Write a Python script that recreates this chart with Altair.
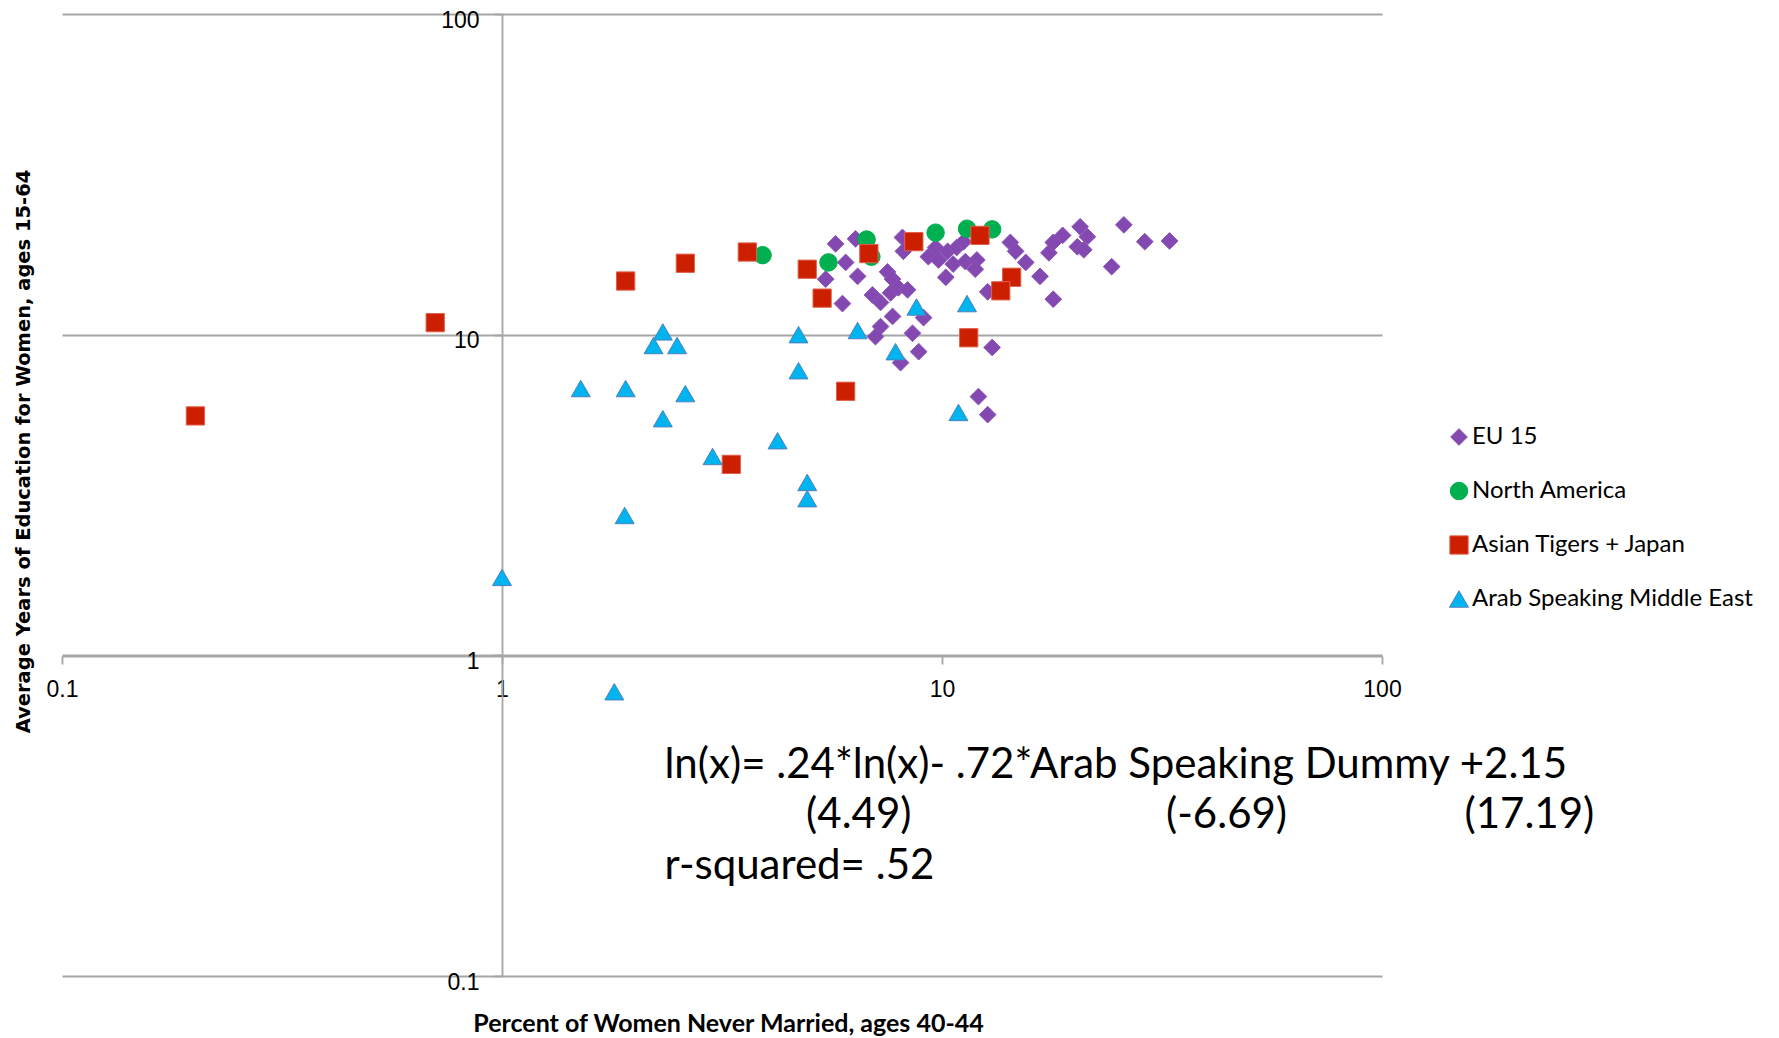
import altair as alt
import pandas as pd

groups = ["EU 15", "North America", "Asian Tigers + Japan", "Arab Speaking Middle East"]

eu_x = [5.73, 6.36, 6.04, 5.44, 6.43, 5.94, 6.95, 7.25, 7.52, 7.72, 7.64, 7.96, 8.35, 7.72, 7.25,
        7.06, 8.57, 8.85, 8.05, 9.08, 8.13, 8.17, 9.31, 9.67, 9.82, 10.3, 10.8, 11.2, 10.6, 11.3,
        12.0, 11.9, 10.2, 12.7, 13.0, 14.3, 14.7, 15.5, 16.7, 17.9, 17.5, 17.9, 18.8, 20.6, 21.4,
        20.3, 21.0, 25.9, 28.9, 32.9, 24.3, 12.1, 12.7]
eu_y = [19.2, 19.9, 16.8, 14.9, 15.2, 12.5, 13.3, 12.6, 15.7, 14.9, 13.5, 14.0, 13.8, 11.4, 10.6,
        9.86, 10.1, 8.85, 8.18, 11.3, 20.1, 18.2, 17.5, 18.7, 17.1, 18.2, 18.7, 19.5, 16.6, 16.9,
        17.1, 16.0, 15.1, 13.6, 9.12, 19.4, 18.2, 16.8, 15.2, 12.9, 18.0, 19.4, 20.4, 21.7, 20.2,
        18.8, 18.4, 22.0, 19.5, 19.6, 16.3, 6.41, 5.63]

na_x = [3.91, 5.52, 6.74, 6.91, 9.67, 11.4, 13.0]
na_y = [17.7, 16.8, 19.8, 17.5, 20.8, 21.4, 21.3]

at_x = [0.201, 0.705, 1.91, 2.61, 3.61, 4.94, 5.34, 6.82, 8.63, 12.2, 14.4, 13.6, 11.5, 6.04, 3.32]
at_y = [5.58, 10.9, 14.7, 16.7, 18.1, 16.0, 13.0, 17.9, 19.5, 20.4, 15.1, 13.7, 9.78, 6.66, 3.94]

am_x = [1.0, 1.90, 1.80, 1.51, 1.91, 2.61, 2.32, 2.32, 2.21, 2.50, 3.01, 4.23, 4.72, 4.72, 4.94,
        4.94, 6.43, 8.75, 11.4, 7.84, 10.9]
am_y = [1.75, 2.73, 0.77, 6.79, 6.79, 6.55, 5.47, 10.2, 9.25, 9.25, 4.17, 4.67, 10.0, 7.72, 3.46,
        3.08, 10.3, 12.2, 12.5, 8.85, 5.72]

tick_values = [0.1, 1, 10, 100]

eq_text = ["ln(x)= .24*ln(x)- .72*Arab Speaking Dummy +2.15", "(4.49)", "(-6.69)", "(17.19)",
           "r-squared= .52"]
eq_x = [2.34, 4.91, 32.3, 154.0, 2.34]
eq_y = [0.454, 0.317, 0.317, 0.317, 0.221]

fills = ["#8349B1", "#00B050", "#CC1F00", "#00B4F0"]
strokes = ["#8B55B8", "#00B050", "#E0604A", "#4F81BD"]
shapes = ["diamond", "circle", "square", "triangle-up"]
sizes = [280, 360, 380, 460]

rows = []
for g, xs, ys in zip(groups, [eu_x, na_x, at_x, am_x], [eu_y, na_y, at_y, am_y]):
    for a, b in zip(xs, ys):
        rows.append({"group": g, "x": a, "y": b})
df = pd.DataFrame(rows)
eq = pd.DataFrame({"label": eq_text, "x": eq_x, "y": eq_y})

grid_color = "#A6A6A6"
xscale = alt.Scale(type="log", domain=[0.1, 100], nice=False)
yscale = alt.Scale(type="log", domain=[0.1, 100], nice=False)

xaxis = alt.Axis(values=tick_values, format="~g", grid=False, offset=-320,
                 domainColor=grid_color, domainWidth=1.8, tickColor=grid_color, tickWidth=1.8,
                 tickSize=8, labelFont="Liberation Sans", labelFontSize=23, labelColor="#000000",
                 labelPadding=14, labelFlush=False,
                 title="Percent of Women Never Married, ages 40-44", titleFont="Lato",
                 titleFontSize=25, titleFontWeight="bold", titleColor="#000000",
                 titleX=666, titleY=367, titleBaseline="middle", titleAlign="center")
yaxis = alt.Axis(values=tick_values, format="~g", grid=True, gridColor=grid_color, gridWidth=1.8,
                 offset=-440, domainColor=grid_color, domainWidth=1.8, tickColor=grid_color,
                 tickWidth=1.8, tickSize=8, labelFont="Liberation Sans", labelFontSize=23,
                 labelColor="#000000", labelPadding=15, labelFlush=False, labelOffset=6,
                 title="Average Years of Education for Women, ages 15-64", titleFont="DejaVu Sans",
                 titleFontSize=19.5, titleFontWeight="bold", titleColor="#000000",
                 titleX=-479, titleY=437, titleAngle=270, titleBaseline="middle",
                 titleAlign="center")

leg = alt.Legend(title=None, orient="none", legendX=1385, legendY=411, labelFont="Lato",
                 labelFontSize=24, labelColor="#000000", labelLimit=0, symbolSize=220,
                 rowPadding=30, labelOffset=1, padding=0, symbolStrokeWidth=1)

points = alt.Chart(df).mark_point(filled=True, opacity=1, strokeWidth=1).encode(
    x=alt.X("x:Q", scale=xscale, axis=xaxis),
    y=alt.Y("y:Q", scale=yscale, axis=yaxis),
    color=alt.Color("group:N", scale=alt.Scale(domain=groups, range=fills), legend=leg),
    shape=alt.Shape("group:N", scale=alt.Scale(domain=groups, range=shapes), legend=leg),
    stroke=alt.Stroke("group:N", scale=alt.Scale(domain=groups, range=strokes), legend=leg),
    size=alt.Size("group:N", scale=alt.Scale(domain=groups, range=sizes), legend=None),
)

text = alt.Chart(eq).mark_text(align="left", baseline="middle", font="Lato", fontSize=42,
                               color="#000000").encode(
    x=alt.X("x:Q", scale=xscale, axis=xaxis),
    y=alt.Y("y:Q", scale=yscale, axis=yaxis),
    text="label:N",
)

chart = alt.layer(points, text).properties(
    width=1320, height=962,
    padding={"left": 54, "top": 6, "right": 385, "bottom": 62},
    autosize=alt.AutoSizeParams(type="none"),
    background="white",
).configure_view(stroke=None)

chart.save("out.html", embed_options={"renderer": "svg", "actions": False})
